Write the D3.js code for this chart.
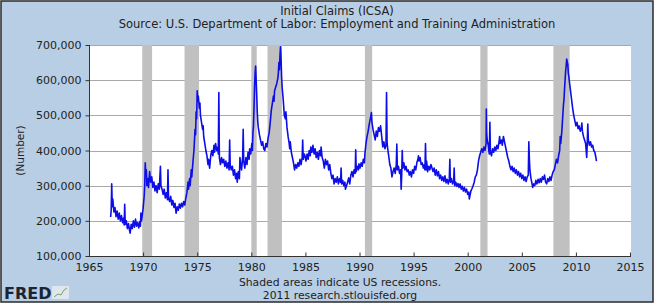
<!DOCTYPE html>
<html>
<head>
<meta charset="utf-8">
<script src="https://cdn.jsdelivr.net/npm/d3@7"></script>
<style>
  body { margin: 0; background: #fff; }
  text { font-family: "DejaVu Sans", Verdana, sans-serif; fill: #222; }
</style>
</head>
<body>
<div id="chart"></div>
<script>

// weekly initial claims as [year, thousands]
const claims = [
  [1967.0,211],[1967.05,230],[1967.1,305],[1967.15,240],[1967.2,262],[1967.3,225],[1967.4,238],[1967.5,212],
  [1967.6,228],[1967.7,205],[1967.8,222],[1967.9,200],[1968.0,215],[1968.1,195],[1968.2,208],[1968.25,188],
  [1968.3,247],[1968.35,190],[1968.45,200],[1968.55,178],[1968.65,192],[1968.75,172],[1968.8,165],[1968.9,190],
  [1969.0,178],[1969.1,200],[1969.2,182],[1969.3,205],[1969.4,185],[1969.5,195],[1969.6,180],[1969.7,198],
  [1969.75,185],[1969.8,222],[1969.85,200],[1969.9,210],[1970.0,235],[1970.1,270],[1970.15,300],[1970.2,365],
  [1970.25,330],[1970.3,345],[1970.35,300],[1970.45,320],[1970.5,295],[1970.6,340],[1970.7,310],[1970.8,325],
  [1970.9,295],[1971.0,310],[1971.1,285],[1971.2,300],[1971.3,280],[1971.4,305],[1971.5,290],[1971.6,355],
  [1971.65,300],[1971.75,290],[1971.85,275],[1971.95,290],[1972.05,265],[1972.15,280],[1972.25,260],[1972.3,345],
  [1972.35,265],[1972.45,255],[1972.55,270],[1972.65,245],[1972.75,258],[1972.85,238],[1972.95,250],[1973.05,222],
  [1973.15,240],[1973.25,230],[1973.35,248],[1973.45,236],[1973.55,250],[1973.65,240],[1973.75,255],[1973.85,245],
  [1973.95,265],[1974.05,280],[1974.15,310],[1974.2,290],[1974.3,320],[1974.35,300],[1974.45,345],[1974.5,325],
  [1974.6,365],[1974.7,400],[1974.8,460],[1974.85,445],[1974.9,510],[1974.95,490],[1975.0,570],[1975.05,540],
  [1975.1,555],[1975.2,520],[1975.25,535],[1975.3,500],[1975.4,480],[1975.5,460],[1975.55,470],[1975.6,440],
  [1975.7,420],[1975.8,400],[1975.9,385],[1976.0,360],[1976.05,375],[1976.15,350],[1976.25,385],[1976.35,400],
  [1976.45,385],[1976.55,415],[1976.6,395],[1976.7,420],[1976.8,400],[1976.9,410],[1976.95,390],[1977.0,565],
  [1977.05,380],[1977.15,360],[1977.25,380],[1977.35,365],[1977.45,375],[1977.55,355],[1977.65,370],[1977.75,350],
  [1977.85,365],[1977.95,345],[1978.0,430],[1978.05,360],[1978.15,345],[1978.25,355],[1978.35,330],[1978.45,345],
  [1978.55,320],[1978.65,335],[1978.7,310],[1978.8,340],[1978.9,320],[1978.95,380],[1979.0,365],[1979.1,345],
  [1979.2,380],[1979.25,460],[1979.3,370],[1979.4,350],[1979.5,380],[1979.6,360],[1979.7,395],[1979.8,375],
  [1979.85,405],[1979.95,390],[1980.05,420],[1980.1,400],[1980.15,450],[1980.2,470],[1980.25,520],[1980.3,580],
  [1980.35,620],[1980.4,640],[1980.45,600],[1980.5,560],[1980.55,510],[1980.6,480],[1980.65,465],[1980.75,445],
  [1980.85,430],[1980.95,415],[1981.05,425],[1981.15,405],[1981.25,400],[1981.35,420],[1981.45,410],[1981.55,435],
  [1981.65,450],[1981.75,480],[1981.85,515],[1981.95,535],[1982.05,555],[1982.1,540],[1982.15,570],[1982.25,580],
  [1982.35,590],[1982.45,605],[1982.5,620],[1982.55,650],[1982.6,630],[1982.65,670],[1982.7,695],[1982.75,660],
  [1982.8,610],[1982.85,580],[1982.95,545],[1983.05,500],[1983.15,490],[1983.2,510],[1983.3,465],[1983.4,440],
  [1983.5,420],[1983.55,405],[1983.6,425],[1983.7,395],[1983.8,380],[1983.9,365],[1984.0,345],[1984.1,360],
  [1984.2,350],[1984.3,365],[1984.4,355],[1984.5,375],[1984.6,360],[1984.7,380],[1984.75,430],[1984.8,375],
  [1984.9,390],[1985.0,380],[1985.05,370],[1985.15,390],[1985.25,375],[1985.35,400],[1985.45,385],[1985.5,410],
  [1985.6,395],[1985.7,415],[1985.8,390],[1985.9,405],[1986.0,380],[1986.1,395],[1986.2,375],[1986.3,400],
  [1986.4,385],[1986.45,410],[1986.55,380],[1986.65,370],[1986.75,350],[1986.85,375],[1986.95,360],[1987.05,370],
  [1987.15,345],[1987.25,360],[1987.35,335],[1987.45,320],[1987.55,330],[1987.65,305],[1987.75,320],[1987.85,310],
  [1987.95,325],[1988.05,305],[1988.15,320],[1988.25,310],[1988.3,350],[1988.35,305],[1988.45,315],[1988.55,300],
  [1988.65,310],[1988.7,290],[1988.8,300],[1988.9,310],[1989.0,322],[1989.1,305],[1989.2,330],[1989.3,340],
  [1989.4,325],[1989.5,345],[1989.6,335],[1989.65,402],[1989.7,340],[1989.8,355],[1989.9,345],[1989.95,362],
  [1990.05,350],[1990.15,365],[1990.25,355],[1990.35,375],[1990.45,365],[1990.5,390],[1990.6,420],[1990.7,440],
  [1990.8,455],[1990.9,475],[1991.0,490],[1991.1,508],[1991.15,480],[1991.25,460],[1991.35,445],[1991.45,430],
  [1991.55,455],[1991.65,440],[1991.75,465],[1991.85,455],[1991.95,470],[1992.05,440],[1992.15,410],[1992.25,425],
  [1992.35,405],[1992.45,415],[1992.5,565],[1992.55,420],[1992.65,395],[1992.7,385],[1992.8,360],[1992.9,350],
  [1993.0,325],[1993.1,340],[1993.2,350],[1993.3,335],[1993.4,360],[1993.45,418],[1993.5,345],[1993.6,355],
  [1993.7,335],[1993.8,345],[1993.85,290],[1993.9,330],[1993.95,400],[1994.0,350],[1994.1,365],[1994.2,345],
  [1994.3,355],[1994.4,340],[1994.5,345],[1994.6,330],[1994.7,340],[1994.8,325],[1994.9,345],[1995.0,335],
  [1995.1,355],[1995.2,345],[1995.3,365],[1995.4,375],[1995.45,385],[1995.5,370],[1995.6,380],[1995.7,360],
  [1995.8,365],[1995.9,350],[1996.0,360],[1996.05,345],[1996.1,420],[1996.15,345],[1996.2,370],[1996.3,340],
  [1996.4,355],[1996.5,345],[1996.6,360],[1996.7,350],[1996.8,340],[1996.9,350],[1997.0,330],[1997.1,345],
  [1997.2,328],[1997.3,340],[1997.4,320],[1997.5,330],[1997.6,315],[1997.7,325],[1997.8,312],[1997.9,328],
  [1998.0,308],[1998.1,318],[1998.2,305],[1998.3,320],[1998.35,375],[1998.4,310],[1998.5,320],[1998.6,305],
  [1998.7,312],[1998.75,350],[1998.8,300],[1998.9,310],[1999.0,298],[1999.1,306],[1999.2,295],[1999.3,305],
  [1999.4,290],[1999.5,298],[1999.6,285],[1999.7,295],[1999.8,282],[1999.9,290],[2000.0,275],[2000.1,282],
  [2000.15,262],[2000.2,270],[2000.3,285],[2000.4,292],[2000.5,300],[2000.6,310],[2000.7,325],[2000.8,330],
  [2000.9,345],[2001.0,370],[2001.1,385],[2001.2,395],[2001.3,405],[2001.4,395],[2001.5,410],[2001.6,400],
  [2001.7,420],[2001.72,518],[2001.75,450],[2001.8,430],[2001.9,415],[2001.95,400],[2002.0,390],[2002.05,480],
  [2002.1,395],[2002.2,385],[2002.3,405],[2002.4,395],[2002.5,410],[2002.6,400],[2002.7,415],[2002.8,405],
  [2002.9,425],[2002.95,440],[2003.0,420],[2003.1,430],[2003.2,415],[2003.3,440],[2003.4,425],[2003.5,410],
  [2003.6,395],[2003.7,380],[2003.8,370],[2003.9,355],[2004.0,345],[2004.1,355],[2004.2,340],[2004.3,350],
  [2004.4,335],[2004.5,345],[2004.6,330],[2004.7,340],[2004.8,325],[2004.9,335],[2005.0,320],[2005.1,330],
  [2005.2,315],[2005.3,325],[2005.4,312],[2005.5,325],[2005.6,330],[2005.65,425],[2005.7,375],[2005.75,345],
  [2005.85,320],[2005.95,305],[2006.0,295],[2006.1,305],[2006.2,300],[2006.3,315],[2006.4,305],[2006.5,318],
  [2006.6,308],[2006.7,320],[2006.8,310],[2006.9,325],[2007.0,318],[2007.1,330],[2007.2,310],[2007.3,305],
  [2007.4,320],[2007.5,312],[2007.6,325],[2007.7,315],[2007.8,330],[2007.9,340],[2008.0,345],[2008.1,360],
  [2008.2,375],[2008.3,365],[2008.4,385],[2008.5,400],[2008.55,440],[2008.6,420],[2008.7,455],[2008.75,480],
  [2008.8,505],[2008.85,530],[2008.9,545],[2008.95,575],[2009.0,600],[2009.05,625],[2009.1,640],[2009.15,660],
  [2009.25,645],[2009.3,620],[2009.35,610],[2009.4,595],[2009.5,570],[2009.6,545],[2009.7,520],[2009.8,500],
  [2009.9,485],[2010.0,470],[2010.1,480],[2010.2,462],[2010.3,470],[2010.4,455],[2010.5,465],[2010.55,478],
  [2010.6,455],[2010.7,440],[2010.8,430],[2010.9,420],[2010.95,400],[2011.0,380],[2011.05,420],[2011.1,475],
  [2011.15,430],[2011.25,415],[2011.35,425],[2011.45,410],[2011.55,415],[2011.65,400],[2011.75,395],[2011.85,380],
  [2011.9,370]
];

// NBER recessions, peak month to trough month
const recessions = [
  [1969.92,1970.83],[1973.83,1975.17],[1980.0,1980.5],[1981.5,1982.83],
  [1990.5,1991.17],[2001.17,2001.83],[2007.92,2009.42]
];

const yTicks = [100000,200000,300000,400000,500000,600000,700000];
const xTicks = [1965,1970,1975,1980,1985,1990,1995,2000,2005,2010,2015];

const title = "Initial Claims (ICSA)";
const source = "Source: U.S. Department of Labor: Employment and Training Administration";
const notes = ["Shaded areas indicate US recessions.", "2011 research.stlouisfed.org"];

const w = 662;
const h = 304;
const pLeft = 89, pRight = 631, pTop = 45, pBottom = 256;

const svg = d3.select("#chart")
  .append("svg")
  .attr("width", w)
  .attr("height", h);

// panel
svg.append("rect")
  .attr("x", 1).attr("y", 1)
  .attr("width", 652).attr("height", 301)
  .attr("fill", "#b8cee4")
  .attr("stroke", "#2a2a2a")
  .attr("stroke-width", 1.5);

svg.append("rect")
  .attr("x", pLeft).attr("y", pTop)
  .attr("width", pRight - pLeft).attr("height", pBottom - pTop)
  .attr("fill", "#fff");

const xScale = d3.scaleLinear()
  .domain([1965, 2015])
  .range([pLeft, 630]);

const yScale = d3.scaleLinear()
  .domain([100000, 700000])
  .range([pBottom, pTop]);

// grid
svg.append("g")
  .selectAll("line")
  .data(yTicks.slice(1))
  .join("line")
  .attr("x1", pLeft).attr("x2", pRight)
  .attr("y1", d => Math.round(yScale(d)) + 0.5)
  .attr("y2", d => Math.round(yScale(d)) + 0.5)
  .attr("stroke", "#a9a9a9");

// recession bars
svg.append("g")
  .selectAll("rect")
  .data(recessions)
  .join("rect")
  .attr("x", d => xScale(d[0]))
  .attr("width", d => xScale(d[1]) - xScale(d[0]))
  .attr("y", pTop)
  .attr("height", pBottom - pTop)
  .attr("fill", "#c0c0c0");

const line = d3.line()
  .x(d => xScale(d[0]))
  .y(d => yScale(d[1] * 1000));

svg.append("path")
  .datum(claims)
  .attr("d", line)
  .attr("fill", "none")
  .attr("stroke", "#0d0de8")
  .attr("stroke-width", 1.6)
  .attr("stroke-linejoin", "round");

const yAxis = d3.axisLeft(yScale)
  .tickValues(yTicks)
  .tickFormat(d3.format(","))
  .tickSize(4)
  .tickPadding(4);

const yG = svg.append("g")
  .attr("transform", "translate(" + (pLeft + 0.5) + ",0)")
  .call(yAxis);

const xAxis = d3.axisBottom(xScale)
  .tickValues(xTicks)
  .tickFormat(d3.format("d"))
  .tickSize(-4)
  .tickPadding(7);

const xG = svg.append("g")
  .attr("transform", "translate(0," + (pBottom + 0.5) + ")")
  .call(xAxis);

[yG, xG].forEach(g => {
  g.select(".domain").attr("stroke", "#333");
  g.selectAll(".tick line").attr("stroke", "#333");
  g.selectAll(".tick text").style("font-size", "11px").style("fill", "#222");
});
xG.select(".domain").attr("d", "M" + pLeft + ",0H" + pRight);
yG.select(".domain").attr("d", "M0," + pBottom + "V" + pTop);

svg.append("text")
  .attr("transform", "translate(20," + ((pTop + pBottom) / 2) + ") rotate(-90)")
  .attr("text-anchor", "middle")
  .attr("dy", "0.35em")
  .style("font-size", "10.5px")
  .text("(Number)");

svg.append("text")
  .attr("x", 337).attr("y", 15)
  .attr("text-anchor", "middle")
  .style("font-size", "11.5px")
  .text(title);

svg.append("text")
  .attr("x", 337).attr("y", 28)
  .attr("text-anchor", "middle")
  .style("font-size", "11.5px")
  .text(source);

svg.append("g")
  .selectAll("text")
  .data(notes)
  .join("text")
  .attr("x", 340)
  .attr("y", (d, i) => 286 + i * 12.5)
  .attr("text-anchor", "middle")
  .style("font-size", "10.8px")
  .text(d => d);

// FRED logo
svg.append("text")
  .attr("x", 4).attr("y", 299)
  .style("font-size", "16px")
  .style("font-weight", "bold")
  .style("fill", "#1b2430")
  .text("FRED");

svg.append("rect")
  .attr("x", 52).attr("y", 286)
  .attr("width", 17).attr("height", 13)
  .attr("fill", "#dfe6ee");

svg.append("path")
  .attr("d", "M54,297L58,294L61,295L64,290L67,288")
  .attr("fill", "none")
  .attr("stroke", "#7fa36a")
  .attr("stroke-width", 1);

</script>
</body>
</html>
